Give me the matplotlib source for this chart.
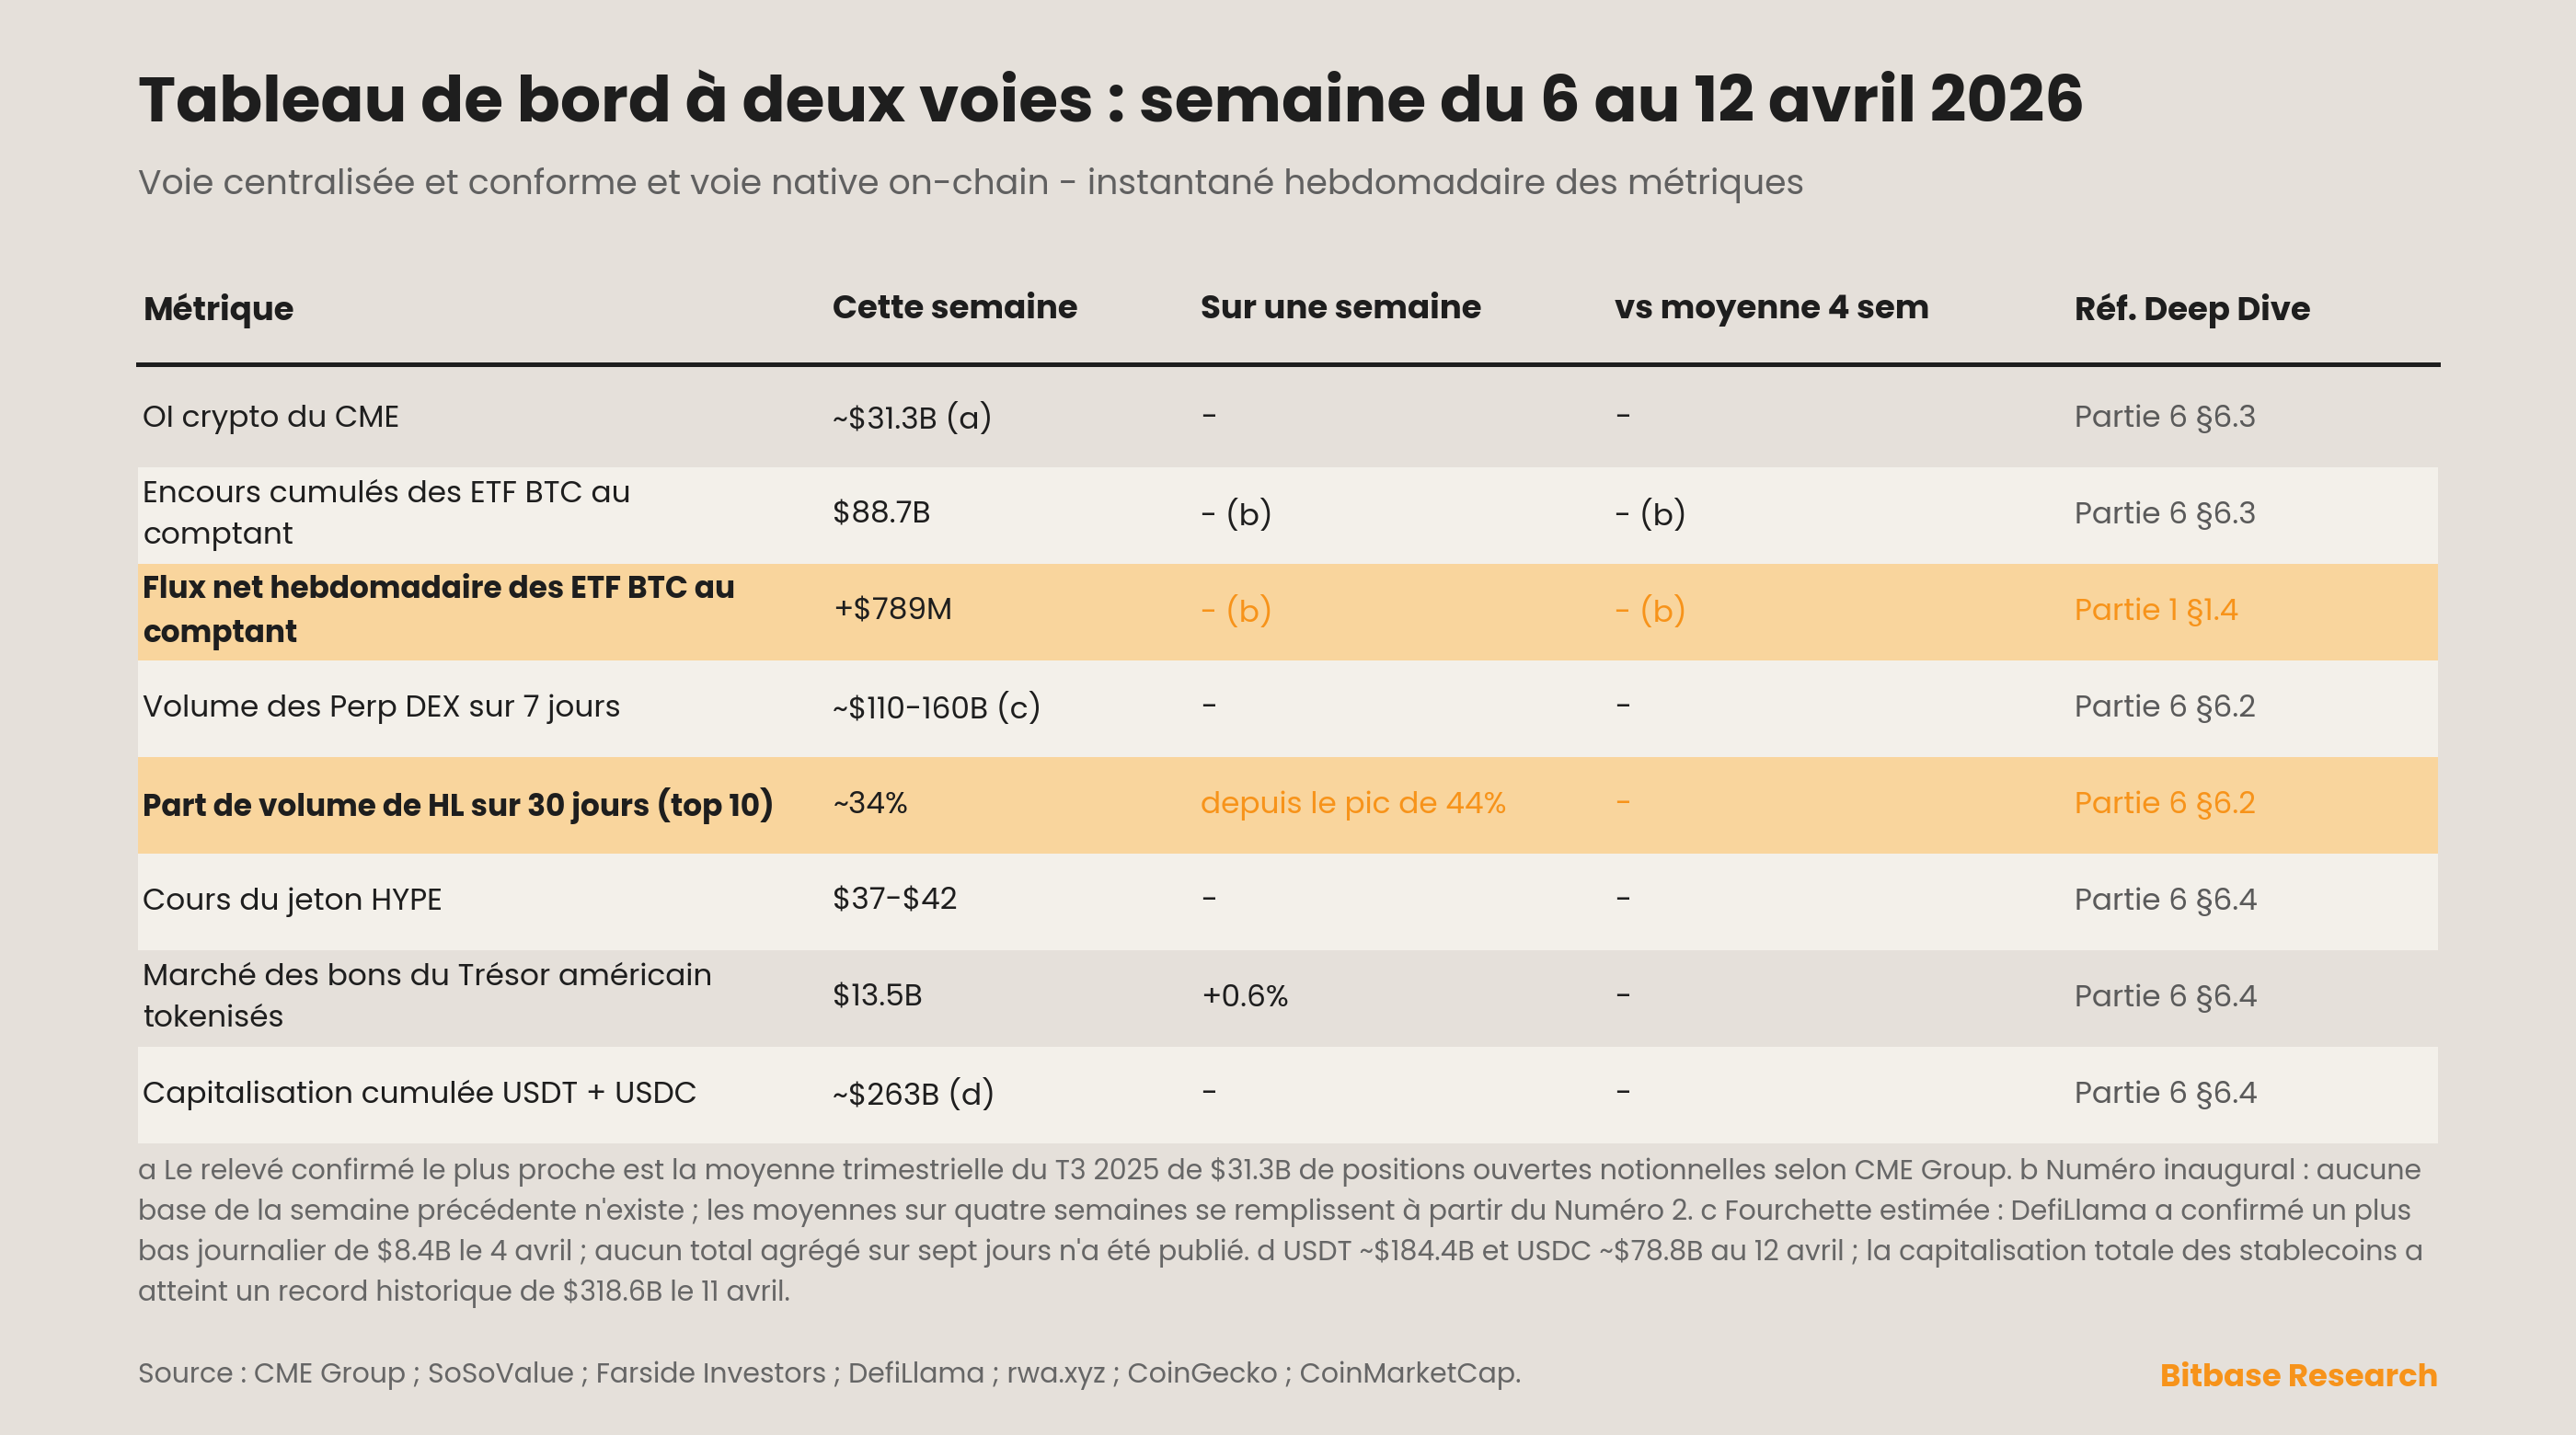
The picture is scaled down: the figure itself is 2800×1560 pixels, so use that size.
import matplotlib
matplotlib.use("Agg")
import matplotlib.pyplot as plt
from matplotlib.patches import Rectangle

metrics = ["OI crypto du CME", "Encours cumulés des ETF BTC au\ncomptant",
           "Flux net hebdomadaire des ETF BTC au\ncomptant", "Volume des Perp DEX sur 7 jours",
           "Part de volume de HL sur 30 jours (top 10)", "Cours du jeton HYPE",
           "Marché des bons du Trésor américain\ntokenisés", "Capitalisation cumulée USDT + USDC"]
this_week = ["~$31.3B (a)", "$88.7B", "+$789M", "~$110-160B (c)", "~34%", "$37-$42", "$13.5B", "~$263B (d)"]
week_change = ["-", "- (b)", "- (b)", "-", "depuis le pic de 44%", "-", "+0.6%", "-"]
vs_4w = ["-", "- (b)", "- (b)", "-", "-", "-", "-", "-"]
refs = ["Partie 6 §6.3", "Partie 6 §6.3", "Partie 1 §1.4", "Partie 6 §6.2",
        "Partie 6 §6.2", "Partie 6 §6.4", "Partie 6 §6.4", "Partie 6 §6.4"]
highlight = [False, False, True, False, True, False, False, False]
headers = ["Métrique", "Cette semaine", "Sur une semaine", "vs moyenne 4 sem", "Réf. Deep Dive"]

BG = "#E5E0DA"; LIGHT = "#F3F0EA"; HL = "#F9D59D"; ORANGE = "#F7931A"
DARK = "#1E1E1E"; GRAY = "#5A5A5A"
plt.rcParams['font.family'] = ['Poppins', 'Open Sans', 'DejaVu Sans']
plt.rcParams['text.parse_math'] = False

fig = plt.figure(figsize=(14, 7.8), dpi=200, facecolor=BG)
ax = fig.add_axes([0, 0, 1, 1]); ax.set_xlim(0, 1568); ax.set_ylim(874, 0); ax.axis("off")
ax.set_facecolor(BG)

ax.text(84, 65, "Tableau de bord à deux voies : semaine du 6 au 12 avril 2026", fontsize=25,
        fontweight="bold", color=DARK, va="center")
ax.text(84, 113, "Voie centralisée et conforme et voie native on-chain - instantané hebdomadaire des métriques",
        fontsize=13.6, color="#606060", va="center")

colx = [87, 507, 731, 983, 1263]
for x, h in zip(colx, headers):
    ax.text(x, 189, h, fontsize=12.8, fontweight="bold", color=DARK, va="center")
ax.plot([84, 1484], [222, 222], color=DARK, lw=1.8)

top, rh = 226, 58.8
for i in range(len(metrics)):
    y0 = top + i * rh
    fc = HL if highlight[i] else (BG if i % 2 == 0 else LIGHT)
    ax.add_patch(Rectangle((84, y0), 1400, rh, facecolor=fc, edgecolor="none"))
    yc = y0 + rh / 2
    hl = highlight[i]
    ax.text(colx[0], yc, metrics[i], fontsize=11.8, fontweight="bold" if hl else "normal",
            color=DARK, va="center", linespacing=1.55)
    ax.text(colx[1], yc, this_week[i], fontsize=11.8, color=DARK, va="center")
    ax.text(colx[2], yc, week_change[i], fontsize=11.8, color=ORANGE if hl else DARK, va="center")
    ax.text(colx[3], yc, vs_4w[i], fontsize=11.8, color=ORANGE if hl else DARK, va="center")
    ax.text(colx[4], yc, refs[i], fontsize=11.8, color=ORANGE if hl else GRAY, va="center")

foot = ("a Le relevé confirmé le plus proche est la moyenne trimestrielle du T3 2025 de $31.3B de positions ouvertes notionnelles selon CME Group. b Numéro inaugural : aucune\n"
        "base de la semaine précédente n'existe ; les moyennes sur quatre semaines se remplissent à partir du Numéro 2. c Fourchette estimée : DefiLlama a confirmé un plus\n"
        "bas journalier de $8.4B le 4 avril ; aucun total agrégé sur sept jours n'a été publié. d USDT ~$184.4B et USDC ~$78.8B au 12 avril ; la capitalisation totale des stablecoins a\n"
        "atteint un record historique de $318.6B le 11 avril.")
ax.text(84, 751, foot, fontsize=10.8, color="#666666", va="center", linespacing=1.5)
ax.text(84, 838, "Source : CME Group ; SoSoValue ; Farside Investors ; DefiLlama ; rwa.xyz ; CoinGecko ; CoinMarketCap.",
        fontsize=10.8, color="#666666", va="center")
ax.text(1484, 840, "Bitbase Research", fontsize=12.2, fontweight="bold", color=ORANGE, va="center", ha="right")

fig.savefig("out.png", dpi=200, facecolor=BG)
